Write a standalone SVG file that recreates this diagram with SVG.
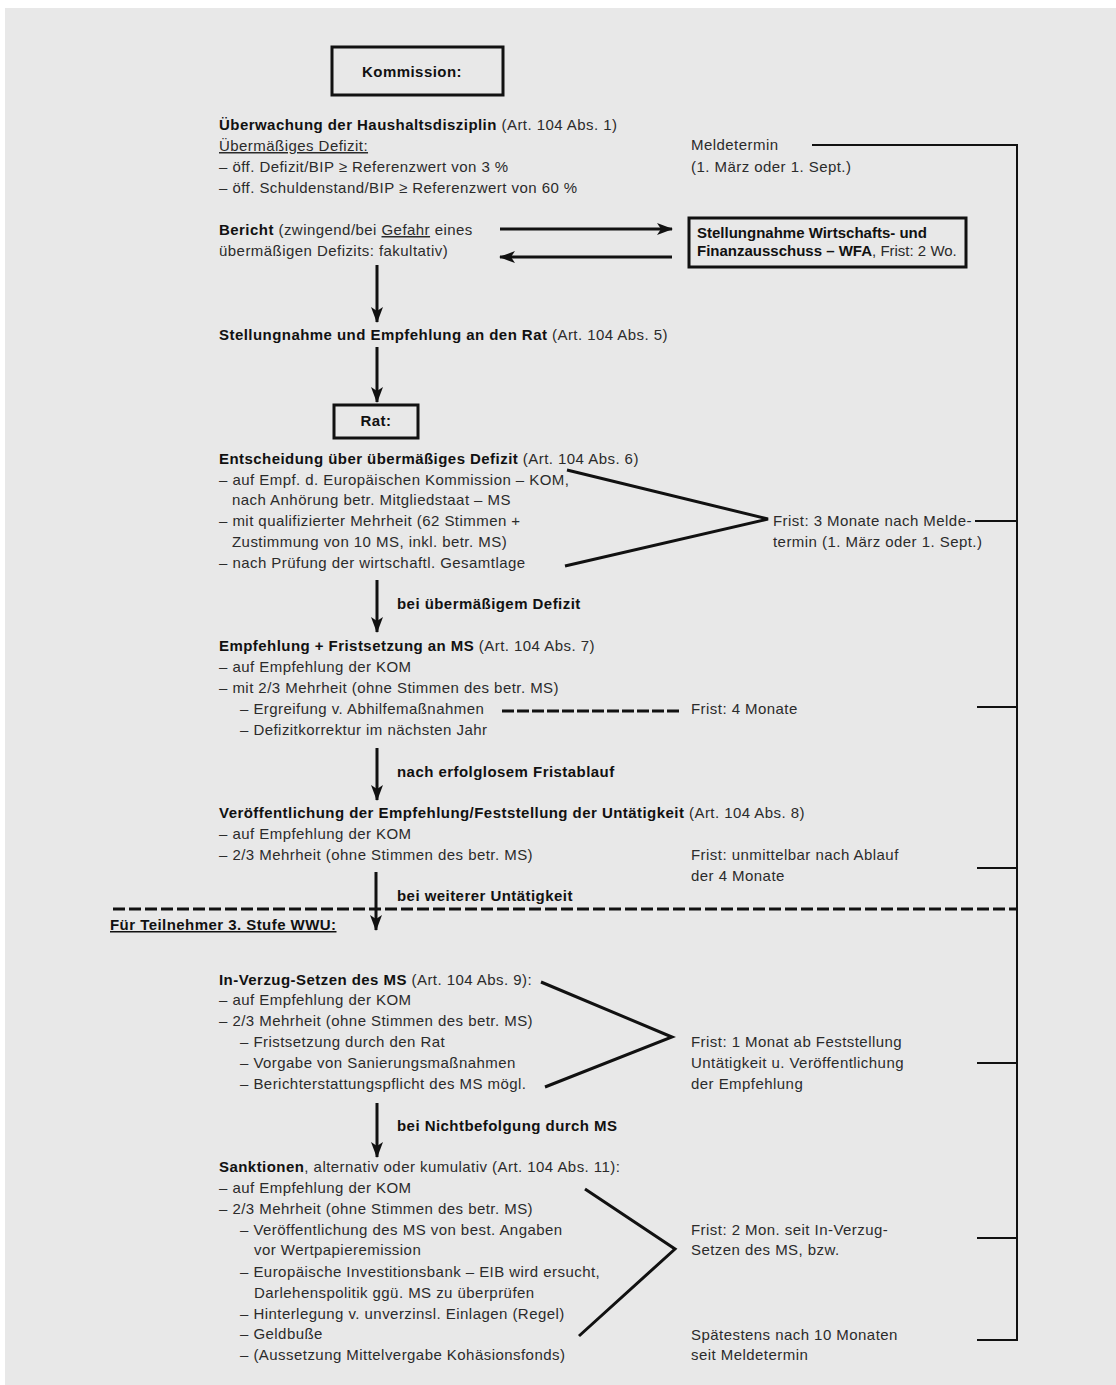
<svg xmlns="http://www.w3.org/2000/svg" width="1116" height="1385" viewBox="0 0 1116 1385">
<style>
text{font-family:"Liberation Sans",Arial,sans-serif;font-size:15px;letter-spacing:0.45px;fill:#2b2b2b}
.b{font-weight:bold;fill:#111}
.nb{letter-spacing:0px}
.box{fill:none;stroke:#111;stroke-width:3}
.ln{stroke:#111;stroke-width:3;fill:none}
.th{stroke:#111;stroke-width:2;fill:none}
.ul{text-decoration:underline}
</style>
<defs>
<marker id="ahd" viewBox="0 0 16 12" refX="15" refY="6" markerWidth="16" markerHeight="12" markerUnits="userSpaceOnUse" orient="auto">
<path d="M0,0 L16,6 L0,12 L4,6 Z" fill="#111"/>
</marker>
</defs>
<rect x="0" y="0" width="1116" height="1385" fill="#ffffff"/>
<rect x="5" y="8" width="1111" height="1377" fill="#e8e8e8"/>

<g id="connectors">
<line class="ln" x1="500" y1="229" x2="672" y2="229" marker-end="url(#ahd)"/>
<line class="ln" x1="672" y1="257" x2="500" y2="257" marker-end="url(#ahd)"/>
<line class="ln" x1="377" y1="265" x2="377" y2="322" marker-end="url(#ahd)"/>
<line class="ln" x1="377" y1="347" x2="377" y2="402" marker-end="url(#ahd)"/>
<line class="ln" x1="377" y1="580" x2="377" y2="632" marker-end="url(#ahd)"/>
<line class="ln" x1="377" y1="748" x2="377" y2="800" marker-end="url(#ahd)"/>
<line class="ln" x1="376" y1="872" x2="376" y2="930" marker-end="url(#ahd)"/>
<line class="ln" x1="377" y1="1103" x2="377" y2="1157" marker-end="url(#ahd)"/>
<polyline class="ln" points="567,470 768,519 565,566"/>
<polyline class="ln" points="541,982 672,1037 545,1087"/>
<polyline class="ln" points="585,1189 675,1249 579,1336"/>
<line class="ln" x1="502" y1="711" x2="681" y2="711" stroke-dasharray="12,3"/>
<line class="ln" x1="113" y1="909" x2="1017" y2="909" stroke-dasharray="12,4"/>
<line class="th" x1="812" y1="145" x2="1017" y2="145"/>
<line class="th" x1="1017" y1="144" x2="1017" y2="1341"/>
<line class="th" x1="975" y1="521" x2="1017" y2="521"/>
<line class="th" x1="977" y1="707" x2="1017" y2="707"/>
<line class="th" x1="977" y1="868" x2="1017" y2="868"/>
<line class="th" x1="977" y1="1063" x2="1017" y2="1063"/>
<line class="th" x1="977" y1="1238" x2="1017" y2="1238"/>
<line class="th" x1="977" y1="1340" x2="1017" y2="1340"/>
</g>

<g id="kommission">
<rect class="box" x="332" y="47" width="171" height="48"/>
<text class="b" x="412" y="77" text-anchor="middle">Kommission:</text>
</g>

<g id="ueberwachung">
<text x="219" y="130"><tspan class="b">Überwachung der Haushaltsdisziplin</tspan> (Art. 104 Abs. 1)</text>
<text class="ul" x="219" y="151">Übermäßiges Defizit:</text>
<text x="219" y="172">– öff. Defizit/BIP ≥ Referenzwert von 3 %</text>
<text x="219" y="193">– öff. Schuldenstand/BIP ≥ Referenzwert von 60 %</text>
</g>

<g id="meldetermin">
<text x="691" y="150">Meldetermin</text>
<text x="691" y="172">(1. März oder 1. Sept.)</text>
</g>

<g id="bericht">
<text x="219" y="235"><tspan class="b">Bericht</tspan> (zwingend/bei <tspan class="ul">Gefahr</tspan> eines</text>
<text x="219" y="256">übermäßigen Defizits: fakultativ)</text>
</g>

<g id="wfa">
<rect class="box" x="689" y="218" width="277" height="49"/>
<text class="b nb" x="697" y="238">Stellungnahme Wirtschafts- und</text>
<text class="nb" x="697" y="256"><tspan class="b">Finanzausschuss – WFA</tspan>, Frist: 2 Wo.</text>
</g>

<g id="stellungnahme">
<text x="219" y="340"><tspan class="b">Stellungnahme und Empfehlung an den Rat</tspan> (Art. 104 Abs. 5)</text>
</g>

<g id="rat">
<rect class="box" x="334" y="405" width="84" height="33"/>
<text class="b" x="376" y="426" text-anchor="middle">Rat:</text>
</g>

<g id="entscheidung">
<text x="219" y="464"><tspan class="b">Entscheidung über übermäßiges Defizit</tspan> (Art. 104 Abs. 6)</text>
<text x="219" y="485">– auf Empf. d. Europäischen Kommission – KOM,</text>
<text x="232" y="505">nach Anhörung betr. Mitgliedstaat – MS</text>
<text x="219" y="526">– mit qualifizierter Mehrheit (62 Stimmen +</text>
<text x="232" y="547">Zustimmung von 10 MS, inkl. betr. MS)</text>
<text x="219" y="568">– nach Prüfung der wirtschaftl. Gesamtlage</text>
</g>

<g id="frist3">
<text x="773" y="526">Frist: 3 Monate nach Melde-</text>
<text x="773" y="547">termin (1. März oder 1. Sept.)</text>
</g>

<g id="label-defizit"><text class="b" x="397" y="609">bei übermäßigem Defizit</text></g>

<g id="empfehlung">
<text x="219" y="651"><tspan class="b">Empfehlung + Fristsetzung an MS</tspan> (Art. 104 Abs. 7)</text>
<text x="219" y="672">– auf Empfehlung der KOM</text>
<text x="219" y="693">– mit 2/3 Mehrheit (ohne Stimmen des betr. MS)</text>
<text x="240" y="714">– Ergreifung v. Abhilfemaßnahmen</text>
<text x="240" y="735">– Defizitkorrektur im nächsten Jahr</text>
</g>

<g id="frist4"><text x="691" y="714">Frist: 4 Monate</text></g>

<g id="label-fristablauf"><text class="b" x="397" y="777">nach erfolglosem Fristablauf</text></g>

<g id="veroeffentlichung">
<text x="219" y="818"><tspan class="b">Veröffentlichung der Empfehlung/Feststellung der Untätigkeit</tspan> (Art. 104 Abs. 8)</text>
<text x="219" y="839">– auf Empfehlung der KOM</text>
<text x="219" y="860">– 2/3 Mehrheit (ohne Stimmen des betr. MS)</text>
</g>

<g id="frist-unmittelbar">
<text x="691" y="860">Frist: unmittelbar nach Ablauf</text>
<text x="691" y="881">der 4 Monate</text>
</g>

<g id="label-untaetigkeit"><text class="b" x="397" y="901">bei weiterer Untätigkeit</text></g>

<g id="teilnehmer">
<text class="b ul" x="110" y="930">Für Teilnehmer 3. Stufe WWU:</text>
</g>

<g id="inverzug">
<text x="219" y="985"><tspan class="b">In-Verzug-Setzen des MS</tspan> (Art. 104 Abs. 9):</text>
<text x="219" y="1005">– auf Empfehlung der KOM</text>
<text x="219" y="1026">– 2/3 Mehrheit (ohne Stimmen des betr. MS)</text>
<text x="240" y="1047">– Fristsetzung durch den Rat</text>
<text x="240" y="1068">– Vorgabe von Sanierungsmaßnahmen</text>
<text x="240" y="1089">– Berichterstattungspflicht des MS mögl.</text>
</g>

<g id="frist1">
<text x="691" y="1047">Frist: 1 Monat ab Feststellung</text>
<text x="691" y="1068">Untätigkeit u. Veröffentlichung</text>
<text x="691" y="1089">der Empfehlung</text>
</g>

<g id="label-nichtbefolgung"><text class="b" x="397" y="1131">bei Nichtbefolgung durch MS</text></g>

<g id="sanktionen">
<text x="219" y="1172"><tspan class="b">Sanktionen</tspan>, alternativ oder kumulativ (Art. 104 Abs. 11):</text>
<text x="219" y="1193">– auf Empfehlung der KOM</text>
<text x="219" y="1214">– 2/3 Mehrheit (ohne Stimmen des betr. MS)</text>
<text x="240" y="1235">– Veröffentlichung des MS von best. Angaben</text>
<text x="254" y="1255">vor Wertpapieremission</text>
<text x="240" y="1277">– Europäische Investitionsbank – EIB wird ersucht,</text>
<text x="254" y="1298">Darlehenspolitik ggü. MS zu überprüfen</text>
<text x="240" y="1319">– Hinterlegung v. unverzinsl. Einlagen (Regel)</text>
<text x="240" y="1339">– Geldbuße</text>
<text x="240" y="1360">– (Aussetzung Mittelvergabe Kohäsionsfonds)</text>
</g>

<g id="frist2">
<text x="691" y="1235">Frist: 2 Mon. seit In-Verzug-</text>
<text x="691" y="1255">Setzen des MS, bzw.</text>
<text x="691" y="1340">Spätestens nach 10 Monaten</text>
<text x="691" y="1360">seit Meldetermin</text>
</g>
</svg>
